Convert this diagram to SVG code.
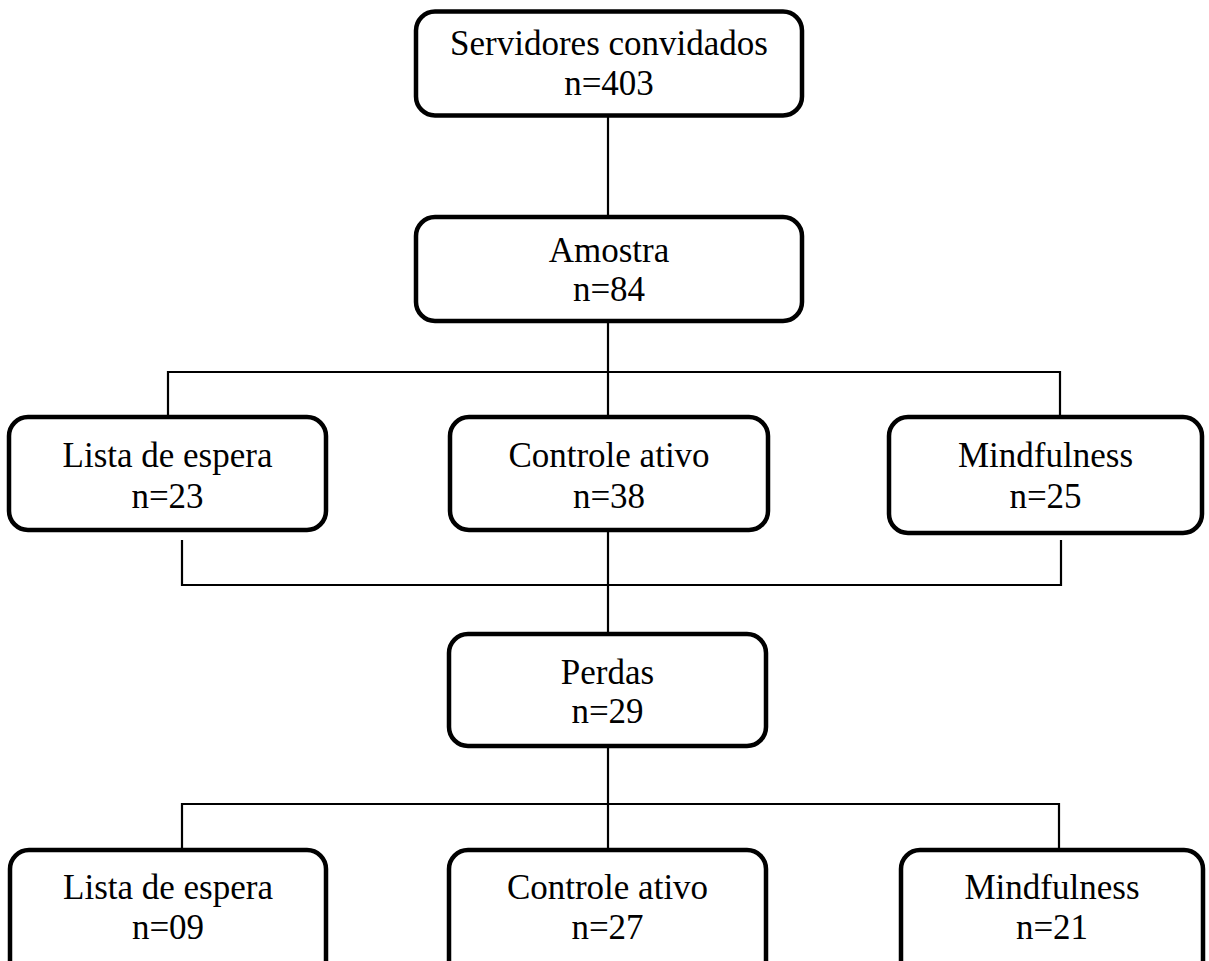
<svg xmlns="http://www.w3.org/2000/svg" width="1209" height="961" viewBox="0 0 1209 961">
<style>
.box{fill:#fff;stroke:#000;stroke-width:4.5}
.conn{fill:none;stroke:#000;stroke-width:2.2}
text{font-family:"Liberation Serif","Times New Roman",serif;font-size:35px;fill:#000;text-anchor:middle}
</style>
<rect width="1209" height="961" fill="#fff"/>
<g id="connectors">
<path class="conn" d="M608 116V216"/>
<path class="conn" d="M608 322V416"/>
<path class="conn" d="M168 416V372H1060V416"/>
<path class="conn" d="M182 540V585H1061V540"/>
<path class="conn" d="M608 531V633"/>
<path class="conn" d="M608 747V849"/>
<path class="conn" d="M182 849V804H1059V849"/>
</g>
<g id="n1"><rect class="box" x="416" y="11.5" width="386" height="104" rx="19"/><text x="609" y="55">Servidores convidados</text><text x="609" y="95">n=403</text></g>
<g id="n2"><rect class="box" x="416" y="217" width="386" height="104" rx="19"/><text x="609" y="262">Amostra</text><text x="609" y="301">n=84</text></g>
<g id="n3"><rect class="box" x="9" y="417" width="317" height="113" rx="19"/><text x="167.5" y="467">Lista de espera</text><text x="167.5" y="508">n=23</text></g>
<g id="n4"><rect class="box" x="450" y="417" width="318" height="113" rx="19"/><text x="609" y="467">Controle ativo</text><text x="609" y="508">n=38</text></g>
<g id="n5"><rect class="box" x="889" y="417" width="313" height="116" rx="19"/><text x="1045.5" y="467">Mindfulness</text><text x="1045.5" y="508">n=25</text></g>
<g id="n6"><rect class="box" x="449" y="634" width="317" height="112" rx="19"/><text x="607.5" y="684">Perdas</text><text x="607.5" y="723">n=29</text></g>
<g id="n7"><rect class="box" x="10" y="850" width="316" height="130" rx="19"/><text x="168" y="899">Lista de espera</text><text x="168" y="939">n=09</text></g>
<g id="n8"><rect class="box" x="449" y="850" width="317" height="130" rx="19"/><text x="607.5" y="899">Controle ativo</text><text x="607.5" y="939">n=27</text></g>
<g id="n9"><rect class="box" x="901" y="850" width="302" height="130" rx="19"/><text x="1052" y="899">Mindfulness</text><text x="1052" y="939">n=21</text></g>
</svg>
